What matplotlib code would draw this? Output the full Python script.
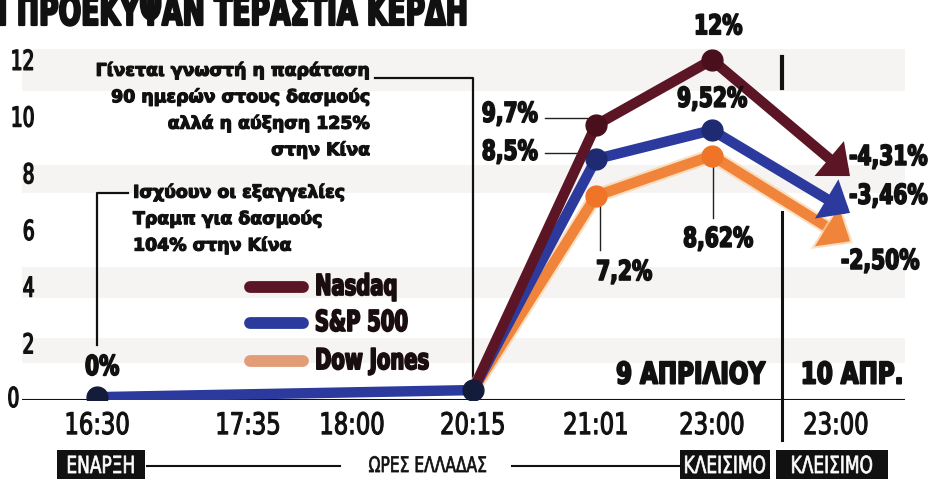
import matplotlib
matplotlib.use("Agg")
import matplotlib.pyplot as plt
import matplotlib.patheffects as pe
from matplotlib.patches import Rectangle
from matplotlib.transforms import Affine2D

# data
times = ["16:30", "17:35", "18:00", "20:15", "21:01", "23:00", "23:00"]
xpos = [0.0, 1.51, 2.55, 3.76, 4.99, 6.15, 7.39]   # uneven slot layout
pts_idx = [0, 3, 4, 5]                               # times with an observation
nasdaq = [0.1, 0.35, 9.7, 12.0]
sp500 = [0.1, 0.35, 8.5, 9.52]
dow = [0.1, 0.35, 7.2, 8.62]
# drawn end of the closing arrows (10 Apr) and their labels
arrow_end_x = 7.53
nasdaq_end = 7.9
sp500_end = 6.6
dow_end = 5.6
close_labels = ["-4,31%", "-3,46%", "-2,50%"]
series_names = ["Nasdaq", "S&P 500", "Dow Jones"]
yticks = [0, 2, 4, 6, 8, 10, 12]

C_NAS = "#5b1524"
C_SP = "#2b3a9c"
C_DOW = "#f0843a"
C_DOT_NAS = "#4a0f1c"
C_DOT_SP = "#1e2a72"
C_DOT_DOW = "#f07428"
C_START = "#141c3c"
INK = "#111111"


class Condense(pe.AbstractPathEffect):
    """Squeeze text glyphs horizontally (no condensed font is installed)."""

    def __init__(self, sx, anchor="center", lw=0.0):
        super().__init__()
        self.sx = sx
        self.anchor = anchor
        self.lw = lw

    def draw_path(self, renderer, gc, tpath, affine, rgbFace=None):
        ext = tpath.get_extents()
        a = {"left": ext.x0, "right": ext.x1}.get(self.anchor, 0.5 * (ext.x0 + ext.x1))
        t = Affine2D().translate(-a, 0).scale(self.sx, 1).translate(a, 0)
        gc0 = renderer.new_gc()
        gc0.copy_properties(gc)
        if self.lw and rgbFace is not None:
            gc0.set_linewidth(self.lw)
            gc0.set_foreground(rgbFace)
            gc0.set_joinstyle("round")
        else:
            gc0.set_linewidth(0)
        renderer.draw_path(gc0, tpath, t + affine, rgbFace)
        gc0.restore()


def ctext(x, y, s, sx=0.74, ha="center", size=19.7, weight="bold", lw=1.2, **kw):
    t = ax.text(x, y, s, ha=ha, va=kw.pop("va", "center"), fontsize=size,
                fontweight=weight, color=kw.pop("color", INK), clip_on=False,
                zorder=kw.pop("zorder", 10), **kw)
    t.set_path_effects([Condense(sx, ha, lw)])
    return t


fig = plt.figure(figsize=(9.33, 4.79), dpi=100)
fig.patch.set_facecolor("white")
ax = fig.add_axes([22 / 933, 79 / 479, 883 / 933, 360 / 479])
ax.set_xlim(-0.75, 8.08)
ax.set_ylim(0, 12.7)
for s in ax.spines.values():
    s.set_visible(False)
ax.set_facecolor("white")

# faint paper bands
for lo, hi in [(10.9, 12.4), (7.3, 8.3), (3.6, 4.7), (1.3, 2.2)]:
    ax.axhspan(lo, hi, color="#f5f4f2", zorder=0, lw=0)

ax.axhline(0, color=INK, lw=1.5, zorder=1)

# y labels
ax.set_yticks(yticks[1:])
ax.set_yticklabels([str(v) for v in yticks[1:]], fontsize=19.7, color=INK)
ax.tick_params(axis="y", length=0, pad=-9.5)
for lab in ax.get_yticklabels():
    lab.set_horizontalalignment("right")
    lab.set_path_effects([Condense(0.68, "right", 1.0)])
ctext(-0.77, 0, "0", sx=0.68, ha="right", weight="normal", lw=1.0)

ax.set_xticks(xpos)
ax.set_xticklabels(times, fontsize=21.5, color=INK)
ax.tick_params(axis="x", length=0, pad=8)
for lab in ax.get_xticklabels():
    lab.set_path_effects([Condense(0.76, "center", 0.8)])

lw = 7.5
xs = [xpos[i] for i in pts_idx]


def series(vals, end, color, dot, zo, glow=None):
    effects = None
    if glow:
        effects = [pe.Stroke(linewidth=lw + 3, foreground=glow, alpha=0.7), pe.Normal()]
    ax.plot(xs[1:], vals[1:], color=color, lw=lw, solid_capstyle="round",
            solid_joinstyle="round", zorder=zo, path_effects=effects)
    ax.annotate("", xy=(arrow_end_x, end), xytext=(xs[-1], vals[-1]),
                arrowprops=dict(arrowstyle="-|>,head_length=0.5,head_width=0.42",
                                lw=lw, color=color, shrinkA=0, shrinkB=0,
                                mutation_scale=20, joinstyle="miter",
                                path_effects=effects),
                zorder=zo)
    ax.plot(xs[2:], vals[2:], "o", ms=15, color=dot, zorder=zo + 0.5)


series(dow, dow_end, C_DOW, C_DOT_DOW, 3, glow="#fbd2a6")
series(sp500, sp500_end, C_SP, C_DOT_SP, 4)
series(nasdaq, nasdaq_end, C_NAS, C_DOT_NAS, 5)

# shared pre-rally segment
ax.plot(xs[:2], sp500[:2], color=C_SP, lw=lw, solid_capstyle="round", zorder=6)
ax.plot(xs[:2], sp500[:2], "o", ms=15, color=C_START, zorder=7)

# value labels
ctext(0.05, 1.13, "0%")
ctext(6.21, 13.15, "12%")
ctext(4.41, 10.06, "9,7%", ha="right")
ctext(4.41, 8.72, "8,5%", ha="right")
ctext(5.27, 4.48, "7,2%")
ctext(6.15, 10.59, "9,52%")
ctext(6.21, 5.65, "8,62%")
ctext(8.31, 8.54, close_labels[0], ha="right")
ctext(8.31, 7.17, close_labels[1], ha="right")
ctext(7.83, 4.87, close_labels[2])

lead = dict(color="#222222", lw=1.0, zorder=2)
ax.plot([4.48, 4.9], [9.95, 9.95], **lead)
ax.plot([4.48, 4.9], [8.72, 8.72], **lead)
ax.plot([5.03, 5.03], [6.88, 5.29], **lead)
ax.plot([6.16, 6.16], [8.29, 6.42], **lead)

# annotations
note_kw = dict(fontsize=12.5, fontweight="bold", color=INK,
               linespacing=1.55, va="top", zorder=10)
t1 = ax.text(2.73, 11.95, "Γίνεται γνωστή η παράταση\n90 ημερών στους δασμούς\n"
             "αλλά η αύξηση 125%\nστην Κίνα", ha="right", multialignment="right", **note_kw)
t2 = ax.text(0.36, 7.65, "Ισχύουν οι εξαγγελίες\nΤραμπ για δασμούς\n104% στην Κίνα",
             ha="left", multialignment="left", **note_kw)
for t in (t1, t2):
    t.set_path_effects([pe.Stroke(linewidth=0.9, foreground=INK), pe.Normal()])
ax.plot([2.78, xpos[3], xpos[3]], [11.37, 11.37, sp500[1]], color=INK, lw=1.6, zorder=2)
ax.plot([0.31, 0, 0], [7.3, 7.3, 1.94], color=INK, lw=1.6, zorder=2)

# legend, drawn by hand so the keys keep their round-capped strokes
leg_y = [0.314, 0.214, 0.108]
for name, c, y in zip(series_names, (C_NAS, C_SP, "#e39c78"), leg_y):
    ax.plot([0.258, 0.318], [y, y], color=c, lw=8.5, solid_capstyle="round",
            transform=ax.transAxes, zorder=8)
    t = ax.text(0.331, y, name, transform=ax.transAxes, ha="left", va="center",
                fontsize=20.7, fontweight="bold", color="#1a0d10", zorder=10)
    t.set_path_effects([Condense(0.68, "left", 1.3)])

# day divider
ax.plot([6.85, 6.85], [12.1, 11.0], color=INK, lw=3, zorder=2)
ax.plot([6.85, 6.85], [6.64, -1.41], color=INK, lw=2.2, zorder=2, clip_on=False)
ctext(6.68, 0.88, "9 ΑΠΡΙΛΙΟΥ", sx=0.77, ha="right", size=21.5, lw=1.4)
ctext(7.03, 0.88, "10 ΑΠΡ.", sx=0.77, ha="left", size=21.5, lw=1.4)

# bottom strip
ybar = -2.33
for x0, x1, label in [(-0.4, 0.48, "ΕΝΑΡΞΗ"), (5.83, 6.73, "ΚΛΕΙΣΙΜΟ"), (6.79, 7.91, "ΚΛΕΙΣΙΜΟ")]:
    ax.add_patch(Rectangle((x0, ybar - 0.55), x1 - x0, 1.1, fc=INK, ec="none",
                           clip_on=False, zorder=9))
    ctext((x0 + x1) / 2, ybar, label, sx=0.72, size=17, weight="normal", color="white", lw=0.5)
ctext(3.31, ybar, "ΩΡΕΣ ΕΛΛΑΔΑΣ", sx=0.72, size=15.5, weight="normal", lw=0.5)
ax.plot([0.5, 2.43], [ybar, ybar], color=INK, lw=1.5, clip_on=False)
ax.plot([4.15, 5.83], [ybar, ybar], color=INK, lw=1.5, clip_on=False)

# title, cropped at the top edge
tt = fig.text(-0.004, (479 - 25) / 479, "Ι ΠΡΟΕΚΥΨΑΝ ΤΕΡΑΣΤΙΑ ΚΕΡΔΗ", ha="left",
              va="baseline", fontsize=29.5, fontweight="bold", color=INK)
tt.set_path_effects([Condense(0.65, "left", 1.6)])

fig.savefig("out.png", dpi=100)
